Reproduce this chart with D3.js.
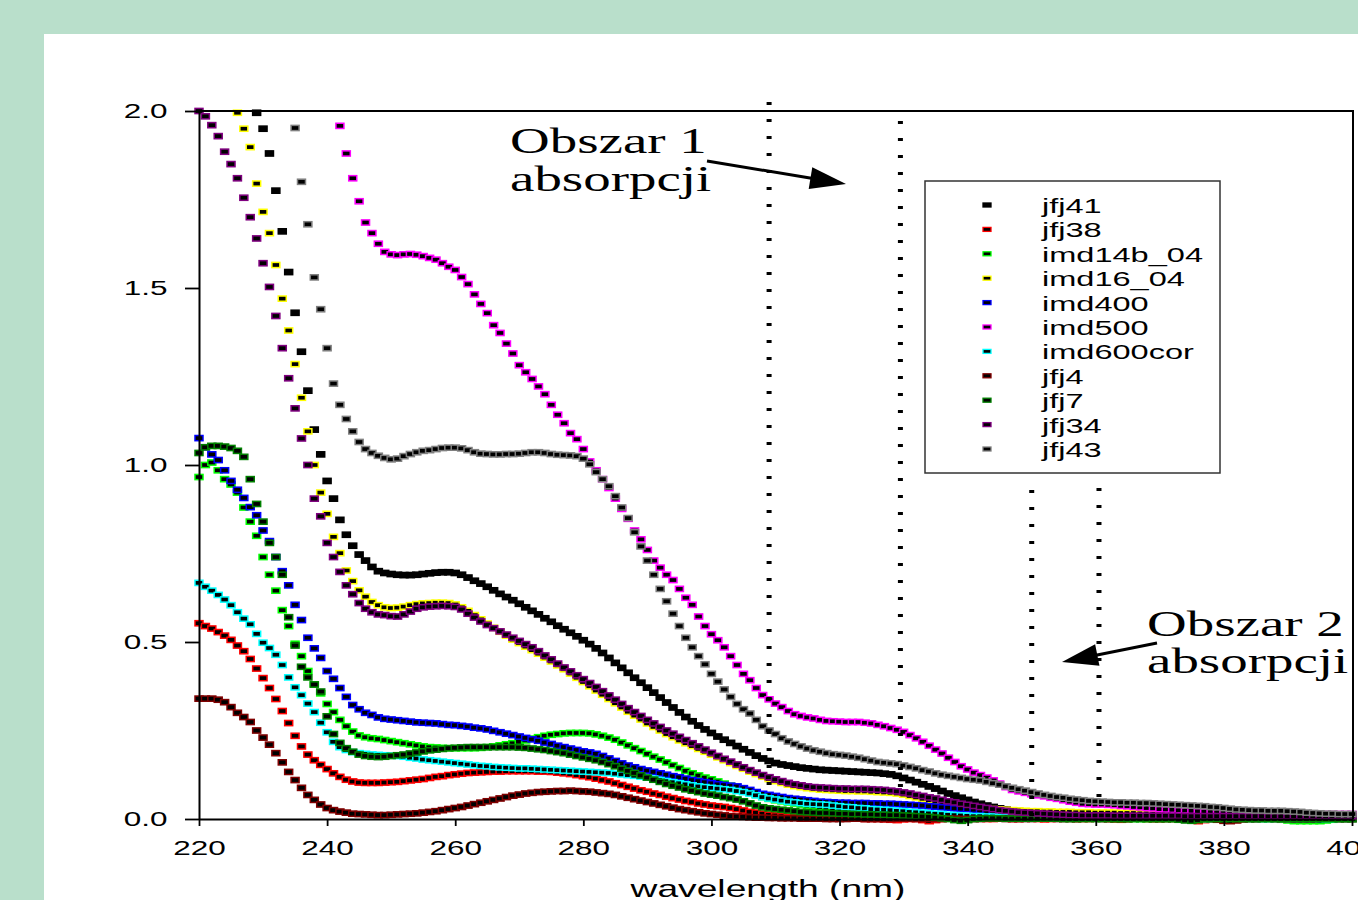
<!DOCTYPE html>
<html>
<head>
<meta charset="utf-8">
<script src="https://cdn.jsdelivr.net/npm/d3@7"></script>
<style>
body { margin: 0; background: #b9dfcb; }
svg { display: block; }
</style>
</head>
<body>
<svg id="chart" width="1358" height="900"></svg>
<script>
// sampling grid of the spectra (nm)
var startNm = 220, endNm = 400, stepNm = 1;
var xTicks = [220, 240, 260, 280, 300, 320, 340, 360, 380, 400];
var yTicks = [0, 0.5, 1.0, 1.5, 2.0];

var seriesNames = ["jfj41", "jfj38", "imd14b_04", "imd16_04", "imd400", "imd500",
                   "imd600cor", "jfj4", "jfj7", "jfj34", "jfj43"];
var seriesColors = ["#000000", "#ff0000", "#00ff00", "#ffff00", "#0000ff", "#ff00ff",
                    "#00ffff", "#800000", "#008000", "#800080", "#808080"];

// absorbance, one value per nm from 220 to 400 (null = above 2.0, off the chart)
var jfj41 = [
 null,null,null,null,null,null,null,null,null,1.995,
 1.950,1.880,1.775,1.660,1.545,1.430,1.320,1.210,1.100,1.030,
 0.955,0.905,0.845,0.803,0.772,0.747,0.730,0.712,0.700,0.695,
 0.692,0.690,0.689,0.689,0.690,0.692,0.694,0.696,0.697,0.697,
 0.695,0.690,0.682,0.673,0.665,0.656,0.646,0.636,0.627,0.618,
 0.608,0.598,0.588,0.578,0.567,0.557,0.546,0.536,0.526,0.516,
 0.505,0.494,0.482,0.469,0.455,0.441,0.427,0.413,0.399,0.385,
 0.371,0.357,0.343,0.329,0.315,0.301,0.288,0.276,0.264,0.253,
 0.243,0.233,0.224,0.215,0.206,0.197,0.188,0.179,0.171,0.164,
 0.158,0.154,0.151,0.148,0.145,0.143,0.141,0.139,0.138,0.137,
 0.136,0.135,0.134,0.133,0.132,0.131,0.130,0.128,0.126,0.122,
 0.116,0.110,0.104,0.098,0.092,0.086,0.079,0.072,0.066,0.060,
 0.054,0.048,0.043,0.038,0.034,0.030,0.027,0.024,0.022,0.020,
 0.018,0.017,0.016,0.015,0.015,0.014,0.014,0.013,0.013,0.012,
 0.012,0.012,0.011,0.011,0.011,0.011,0.010,0.010,0.010,0.010,
 0.010,0.010,0.009,0.009,0.009,0.009,0.009,0.009,0.008,0.008,
 0.008,0.008,0.008,0.008,0.008,0.008,0.007,0.007,0.007,0.007,
 0.007,0.007,0.007,0.007,0.007,0.006,0.006,0.006,0.006,0.006,
 0.006];

var jfj38 = [
 0.553,0.545,0.538,0.528,0.518,0.506,0.490,0.474,0.452,0.425,
 0.398,0.370,0.339,0.305,0.271,0.235,0.205,0.182,0.166,0.153,
 0.141,0.129,0.119,0.111,0.106,0.103,0.102,0.102,0.102,0.103,
 0.104,0.105,0.107,0.109,0.111,0.113,0.116,0.119,0.121,0.124,
 0.126,0.128,0.130,0.131,0.132,0.133,0.134,0.134,0.135,0.135,
 0.135,0.135,0.135,0.134,0.134,0.133,0.131,0.129,0.127,0.124,
 0.121,0.118,0.114,0.110,0.106,0.101,0.096,0.091,0.086,0.081,
 0.077,0.072,0.068,0.063,0.059,0.055,0.051,0.048,0.044,0.041,
 0.038,0.036,0.034,0.031,0.028,0.024,0.020,0.018,0.015,0.012,
 0.010,0.008,0.006,0.005,0.004,0.003,0.003,0.002,0.002,0.002,
 0.002,0.001,0.001,0.001,0.000,0.000,0.000,-0.001,-0.002,-0.003,
 -0.001,0.000,0.000,-0.003,-0.006,-0.003,0.000,0.001,0.001,0.000,
 0.000,0.001,0.001,0.000,0.000,0.001,0.001,0.000,0.000,0.001,
 0.001,0.000,-0.001,0.000,0.001,0.001,0.001,0.000,0.000,0.000,
 0.001,0.001,0.000,-0.001,-0.002,0.000,0.001,0.001,0.000,0.000,
 0.000,0.001,0.001,0.000,-0.001,-0.003,-0.006,-0.003,0.000,0.001,
 0.001,0.000,0.000,0.001,0.001,0.000,0.000,0.000,0.001,0.001,
 0.000,0.000,0.000,0.001,0.001,0.000,0.000,0.000,0.000,0.000,
 0.000];

var imd14b_04 = [
 0.966,1.000,1.007,0.985,0.960,0.945,0.922,0.880,0.840,0.800,
 0.740,0.690,0.645,0.590,0.545,0.495,0.460,0.418,0.380,0.355,
 0.325,0.302,0.280,0.262,0.247,0.236,0.231,0.228,0.226,0.223,
 0.220,0.217,0.214,0.211,0.208,0.205,0.203,0.202,0.201,0.200,
 0.200,0.200,0.200,0.200,0.201,0.203,0.205,0.208,0.211,0.214,
 0.218,0.222,0.227,0.231,0.235,0.238,0.240,0.242,0.243,0.243,
 0.243,0.242,0.239,0.235,0.230,0.224,0.216,0.208,0.200,0.192,
 0.184,0.176,0.168,0.160,0.152,0.144,0.136,0.129,0.123,0.117,
 0.112,0.106,0.100,0.094,0.088,0.082,0.075,0.068,0.062,0.057,
 0.053,0.050,0.047,0.044,0.041,0.038,0.036,0.034,0.032,0.030,
 0.028,0.026,0.024,0.022,0.020,0.019,0.017,0.016,0.015,0.013,
 0.012,0.011,0.010,0.009,0.008,0.007,0.006,0.006,0.005,0.005,
 0.004,0.004,0.004,0.003,0.003,0.003,0.003,0.002,0.002,0.002,
 0.002,0.002,0.002,0.001,0.001,0.001,0.001,0.001,0.001,0.001,
 0.001,0.001,0.001,0.000,0.000,0.000,0.000,0.000,0.000,0.000,
 0.000,0.000,0.000,0.000,0.000,0.000,0.000,0.000,0.000,0.000,
 0.000,0.000,0.000,0.000,0.000,0.000,0.000,0.000,0.000,-0.002,
 -0.004,-0.006,-0.006,-0.006,-0.006,-0.006,-0.004,-0.002,0.000,0.000,
 0.000];

var imd16_04 = [
 null,null,null,null,null,null,1.995,1.950,1.898,1.795,
 1.715,1.655,1.565,1.470,1.380,1.285,1.190,1.095,1.000,0.922,
 0.862,0.797,0.751,0.702,0.672,0.646,0.628,0.613,0.604,0.598,
 0.596,0.597,0.600,0.604,0.607,0.609,0.610,0.611,0.611,0.610,
 0.606,0.598,0.588,0.576,0.564,0.552,0.540,0.529,0.518,0.507,
 0.497,0.487,0.477,0.467,0.456,0.445,0.434,0.423,0.411,0.399,
 0.387,0.375,0.363,0.351,0.339,0.327,0.315,0.303,0.292,0.281,
 0.270,0.260,0.250,0.240,0.231,0.222,0.214,0.206,0.198,0.190,
 0.182,0.174,0.166,0.158,0.150,0.142,0.134,0.127,0.120,0.113,
 0.107,0.102,0.097,0.093,0.090,0.087,0.085,0.083,0.082,0.081,
 0.080,0.079,0.079,0.078,0.078,0.077,0.076,0.075,0.074,0.072,
 0.069,0.065,0.061,0.057,0.053,0.049,0.046,0.043,0.040,0.037,
 0.034,0.032,0.030,0.029,0.028,0.027,0.026,0.025,0.024,0.023,
 0.022,0.022,0.021,0.021,0.020,0.020,0.020,0.019,0.019,0.019,
 0.018,0.018,0.018,0.018,0.017,0.017,0.017,0.016,0.016,0.015,
 0.014,0.013,0.012,0.011,0.010,0.010,0.009,0.009,0.008,0.008,
 0.008,0.008,0.007,0.007,0.007,0.007,0.007,0.006,0.006,0.006,
 0.006,0.006,0.006,0.006,0.005,0.005,0.005,0.005,0.005,0.005,
 0.005];

var imd400 = [
 1.076,1.050,1.030,1.014,0.985,0.955,0.930,0.907,0.881,0.858,
 0.815,0.785,0.740,0.700,0.660,0.605,0.562,0.512,0.482,0.455,
 0.418,0.396,0.370,0.345,0.322,0.310,0.300,0.294,0.287,0.283,
 0.281,0.279,0.277,0.275,0.273,0.272,0.271,0.270,0.268,0.266,
 0.265,0.263,0.261,0.258,0.256,0.253,0.249,0.245,0.241,0.237,
 0.233,0.229,0.225,0.221,0.216,0.212,0.207,0.203,0.199,0.195,
 0.191,0.188,0.184,0.178,0.171,0.164,0.157,0.151,0.146,0.141,
 0.137,0.133,0.129,0.125,0.121,0.118,0.114,0.110,0.107,0.104,
 0.101,0.098,0.096,0.094,0.092,0.087,0.082,0.076,0.071,0.068,
 0.065,0.062,0.059,0.057,0.055,0.053,0.051,0.049,0.048,0.047,
 0.046,0.046,0.045,0.045,0.045,0.044,0.044,0.043,0.043,0.042,
 0.041,0.040,0.039,0.038,0.036,0.035,0.033,0.032,0.030,0.029,
 0.028,0.026,0.024,0.022,0.020,0.018,0.016,0.014,0.013,0.012,
 0.011,0.010,0.010,0.009,0.009,0.008,0.008,0.008,0.007,0.007,
 0.007,0.007,0.006,0.006,0.006,0.006,0.006,0.005,0.005,0.005,
 0.005,0.005,0.005,0.005,0.004,0.004,0.004,0.004,0.004,0.004,
 0.004,0.004,0.004,0.003,0.003,0.003,0.003,0.003,0.003,0.003,
 0.003,0.003,0.003,0.003,0.003,0.002,0.002,0.002,0.002,0.002,
 0.002];

var imd500 = [
 null,null,null,null,null,null,null,null,null,null,
 null,null,null,null,null,null,null,null,null,null,
 null,null,1.958,1.880,1.810,1.745,1.685,1.655,1.625,1.602,
 1.595,1.593,1.595,1.596,1.594,1.590,1.585,1.580,1.570,1.560,
 1.551,1.531,1.511,1.482,1.455,1.429,1.395,1.373,1.343,1.315,
 1.282,1.262,1.243,1.222,1.200,1.170,1.142,1.118,1.090,1.073,
 1.045,1.010,0.985,0.960,0.935,0.905,0.876,0.848,0.815,0.790,
 0.760,0.730,0.710,0.690,0.675,0.650,0.625,0.605,0.572,0.545,
 0.522,0.505,0.485,0.460,0.435,0.410,0.392,0.370,0.350,0.338,
 0.326,0.316,0.305,0.296,0.291,0.287,0.284,0.280,0.277,0.276,
 0.275,0.274,0.274,0.274,0.272,0.270,0.266,0.262,0.257,0.252,
 0.246,0.237,0.228,0.218,0.207,0.196,0.185,0.173,0.161,0.149,
 0.140,0.131,0.124,0.117,0.109,0.100,0.090,0.082,0.078,0.074,
 0.070,0.067,0.064,0.060,0.057,0.053,0.049,0.046,0.043,0.042,
 0.041,0.041,0.040,0.039,0.037,0.036,0.034,0.033,0.031,0.030,
 0.028,0.027,0.026,0.025,0.024,0.023,0.022,0.021,0.020,0.020,
 0.019,0.018,0.018,0.017,0.017,0.017,0.017,0.017,0.017,0.016,
 0.016,0.015,0.015,0.014,0.014,0.014,0.014,0.014,0.014,0.014,
 0.014];

var imd600cor = [
 0.667,0.656,0.645,0.633,0.620,0.604,0.584,0.566,0.550,0.523,
 0.498,0.483,0.464,0.435,0.400,0.372,0.350,0.326,0.302,0.272,
 0.245,0.218,0.203,0.195,0.189,0.186,0.184,0.182,0.181,0.180,
 0.179,0.178,0.176,0.173,0.171,0.168,0.166,0.164,0.162,0.160,
 0.158,0.156,0.154,0.152,0.150,0.149,0.147,0.146,0.145,0.144,
 0.143,0.143,0.142,0.141,0.140,0.139,0.138,0.137,0.136,0.135,
 0.134,0.133,0.132,0.131,0.130,0.128,0.126,0.124,0.122,0.120,
 0.117,0.114,0.110,0.107,0.104,0.101,0.098,0.095,0.092,0.090,
 0.088,0.086,0.084,0.082,0.079,0.076,0.072,0.067,0.062,0.058,
 0.055,0.052,0.049,0.047,0.045,0.043,0.042,0.041,0.040,0.038,
 0.036,0.034,0.033,0.031,0.030,0.028,0.027,0.026,0.025,0.023,
 0.022,0.020,0.019,0.018,0.016,0.015,0.014,0.012,0.011,0.010,
 0.009,0.008,0.008,0.007,0.007,0.006,0.006,0.005,0.005,0.005,
 0.004,0.004,0.004,0.004,0.003,0.003,0.003,0.003,0.003,0.003,
 0.003,0.002,0.002,0.002,0.002,0.002,0.002,0.001,0.001,0.001,
 0.001,0.001,0.001,0.001,0.001,0.001,0.000,0.000,0.000,0.000,
 0.000,0.000,0.000,0.000,0.000,0.000,0.000,0.000,0.000,0.000,
 0.000,0.000,0.000,0.000,0.000,0.000,0.000,0.000,0.000,0.000,
 0.000];

var jfj4 = [
 0.340,0.340,0.340,0.337,0.330,0.316,0.300,0.288,0.274,0.250,
 0.230,0.210,0.186,0.160,0.133,0.110,0.088,0.068,0.054,0.041,
 0.031,0.025,0.021,0.018,0.015,0.014,0.013,0.012,0.011,0.011,
 0.012,0.013,0.014,0.015,0.016,0.018,0.020,0.022,0.025,0.028,
 0.031,0.034,0.038,0.042,0.046,0.050,0.054,0.058,0.062,0.066,
 0.069,0.072,0.074,0.076,0.077,0.078,0.079,0.079,0.080,0.079,
 0.078,0.077,0.075,0.073,0.071,0.068,0.064,0.060,0.056,0.052,
 0.048,0.044,0.040,0.036,0.032,0.028,0.025,0.022,0.019,0.016,
 0.014,0.012,0.010,0.008,0.007,0.006,0.005,0.004,0.004,0.003,
 0.003,0.002,0.002,0.002,0.001,0.001,0.001,0.001,0.000,0.000,
 0.000,0.000,0.001,0.001,0.000,0.000,0.000,0.000,0.000,0.001,
 0.001,0.001,0.000,0.000,0.000,0.000,0.000,0.001,0.001,0.000,
 0.000,0.000,0.000,0.001,0.001,0.001,0.000,0.000,0.000,0.000,
 0.000,0.001,0.001,0.001,0.000,0.000,0.000,0.000,0.001,0.001,
 0.001,0.000,0.000,0.000,0.000,0.000,0.001,0.001,0.001,0.000,
 0.000,0.000,0.000,0.000,0.000,0.000,0.001,0.001,0.000,-0.002,
 -0.005,-0.006,-0.004,-0.001,0.000,0.000,0.001,0.001,0.000,0.000,
 0.000,0.000,0.000,0.000,0.000,0.001,0.001,0.001,0.000,0.000,
 0.000];

var jfj7 = [
 1.034,1.050,1.054,1.054,1.052,1.048,1.040,1.023,0.960,0.890,
 0.840,0.780,0.740,0.690,0.570,0.490,0.430,0.400,0.380,0.360,
 0.290,0.240,0.215,0.200,0.190,0.182,0.178,0.176,0.175,0.176,
 0.178,0.180,0.182,0.185,0.188,0.191,0.194,0.196,0.198,0.200,
 0.201,0.202,0.203,0.203,0.203,0.203,0.203,0.203,0.203,0.203,
 0.202,0.201,0.199,0.197,0.195,0.192,0.189,0.186,0.182,0.178,
 0.174,0.170,0.166,0.161,0.155,0.149,0.142,0.136,0.130,0.123,
 0.117,0.111,0.105,0.099,0.094,0.089,0.084,0.080,0.076,0.072,
 0.069,0.066,0.062,0.059,0.055,0.050,0.044,0.038,0.033,0.030,
 0.028,0.026,0.024,0.022,0.020,0.019,0.018,0.017,0.017,0.016,
 0.015,0.015,0.014,0.014,0.013,0.013,0.012,0.012,0.011,0.011,
 0.010,0.009,0.008,0.007,0.006,0.004,0.002,0.000,-0.003,-0.005,
 -0.003,0.000,0.001,0.002,0.002,0.002,0.001,0.001,0.001,0.001,
 0.001,0.001,0.001,0.001,0.001,0.000,0.000,0.000,0.000,0.000,
 0.000,0.000,0.000,0.000,0.000,0.000,0.000,0.000,0.000,0.000,
 0.000,0.000,0.000,-0.002,-0.004,-0.005,-0.003,0.000,0.000,0.000,
 0.000,0.000,0.000,0.000,0.000,0.000,0.000,0.000,0.000,0.000,
 0.000,0.000,0.000,0.000,0.000,0.000,0.000,0.000,0.000,0.000,
 0.000];

var jfj34 = [
 2.000,1.985,1.960,1.929,1.885,1.850,1.810,1.755,1.700,1.640,
 1.570,1.503,1.421,1.330,1.245,1.160,1.075,1.000,0.905,0.855,
 0.780,0.740,0.698,0.660,0.635,0.610,0.594,0.584,0.578,0.576,
 0.573,0.572,0.578,0.586,0.594,0.598,0.600,0.601,0.602,0.601,
 0.599,0.592,0.580,0.569,0.558,0.548,0.539,0.530,0.521,0.512,
 0.503,0.494,0.485,0.474,0.462,0.451,0.439,0.428,0.417,0.406,
 0.395,0.384,0.373,0.361,0.349,0.337,0.325,0.313,0.302,0.291,
 0.280,0.270,0.260,0.250,0.241,0.232,0.223,0.214,0.205,0.196,
 0.187,0.178,0.170,0.162,0.154,0.146,0.138,0.131,0.124,0.118,
 0.112,0.107,0.102,0.098,0.095,0.092,0.090,0.089,0.088,0.087,
 0.086,0.086,0.085,0.085,0.085,0.084,0.083,0.082,0.080,0.078,
 0.075,0.072,0.068,0.065,0.061,0.058,0.054,0.050,0.047,0.043,
 0.040,0.037,0.034,0.031,0.028,0.025,0.023,0.021,0.019,0.018,
 0.017,0.016,0.015,0.014,0.013,0.012,0.011,0.011,0.010,0.010,
 0.010,0.010,0.010,0.009,0.009,0.009,0.009,0.009,0.009,0.009,
 0.009,0.009,0.009,0.009,0.008,0.008,0.008,0.008,0.008,0.008,
 0.008,0.008,0.008,0.008,0.008,0.008,0.008,0.008,0.008,0.008,
 0.008,0.008,0.008,0.008,0.008,0.008,0.008,0.008,0.008,0.008,
 0.008];

var jfj43 = [
 null,null,null,null,null,null,null,null,null,null,
 null,null,null,null,null,1.952,1.800,1.680,1.530,1.440,
 1.330,1.230,1.170,1.130,1.095,1.065,1.045,1.034,1.026,1.020,
 1.016,1.018,1.025,1.031,1.036,1.040,1.042,1.045,1.048,1.049,
 1.049,1.047,1.042,1.036,1.032,1.031,1.030,1.030,1.031,1.031,
 1.032,1.034,1.036,1.036,1.034,1.031,1.029,1.028,1.027,1.025,
 1.018,1.002,0.980,0.960,0.940,0.912,0.880,0.850,0.810,0.770,
 0.730,0.690,0.650,0.615,0.580,0.545,0.512,0.485,0.460,0.437,
 0.410,0.388,0.366,0.345,0.325,0.310,0.298,0.280,0.262,0.250,
 0.240,0.228,0.219,0.212,0.205,0.199,0.194,0.190,0.186,0.183,
 0.181,0.179,0.176,0.173,0.169,0.165,0.161,0.159,0.157,0.155,
 0.151,0.147,0.143,0.138,0.134,0.129,0.125,0.122,0.119,0.116,
 0.113,0.111,0.109,0.105,0.101,0.097,0.092,0.088,0.084,0.080,
 0.076,0.072,0.068,0.065,0.062,0.060,0.057,0.055,0.053,0.051,
 0.050,0.049,0.048,0.047,0.047,0.046,0.046,0.045,0.045,0.044,
 0.043,0.042,0.041,0.040,0.039,0.038,0.037,0.036,0.034,0.033,
 0.031,0.029,0.027,0.026,0.025,0.024,0.024,0.023,0.023,0.023,
 0.022,0.021,0.020,0.018,0.017,0.016,0.015,0.015,0.014,0.014,
 0.014];

var seriesValues = [jfj41, jfj38, imd14b_04, imd16_04, imd400, imd500,
                    imd600cor, jfj4, jfj7, jfj34, jfj43];

// the two marked absorption regions (nm), drawn as dotted verticals
var regionBounds = [309, 329.5, 350, 360.5];

var wavelengths = d3.range(startNm, endNm + stepNm, stepNm);

var svg = d3.select("#chart");
svg.append("rect").attr("width", 1358).attr("height", 900).attr("fill", "#b9dfcb");
svg.append("rect").attr("x", 44).attr("y", 34).attr("width", 1314).attr("height", 866).attr("fill", "#ffffff");

var x = d3.scaleLinear().domain([220, 400]).range([199, 1352]);
var y = d3.scaleLinear().domain([0, 2]).range([819, 111]);

var SANS = "Liberation Sans, Arial, sans-serif";
var SERIF = "Liberation Serif, Times New Roman, serif";
var SX = 1.5; // the original lettering is stretched sideways

function wideText(g, px, py, str, size, family, sx) {
    return g.append("text")
        .attr("transform", "translate(" + px + "," + py + ") scale(" + (sx || SX) + ",1)")
        .attr("font-family", family)
        .attr("font-size", size)
        .attr("fill", "#000")
        .text(str);
}

// ---- markers
seriesNames.forEach(function(name, i) {
    var pts = wavelengths.map(function(w, j) {
        return { w: w, v: seriesValues[i][j] };
    }).filter(function(d) { return d.v != null; });

    svg.append("g")
        .attr("class", "series-" + name)
        .selectAll("rect")
        .data(pts)
        .enter()
        .append("rect")
        .attr("x", function(d) { return x(d.w) - 4; })
        .attr("y", function(d) { return y(d.v) - 2.6; })
        .attr("width", 8)
        .attr("height", 5.2)
        .attr("fill", "#000")
        .attr("stroke", seriesColors[i])
        .attr("stroke-width", 1.5);
});

// ---- dotted region lines
var dotTops = [102, 121, 490, 488];
var dotBottoms = [797, 797, 820, 800];
regionBounds.forEach(function(nm, i) {
    svg.append("line")
        .attr("x1", x(nm)).attr("x2", x(nm))
        .attr("y1", dotTops[i]).attr("y2", dotBottoms[i])
        .attr("stroke", "#000")
        .attr("stroke-width", 5)
        .attr("stroke-dasharray", "3 14");
});

// ---- axes
var yAxis = svg.append("g")
    .attr("transform", "translate(199,0)")
    .call(d3.axisLeft(y).tickValues(yTicks).tickFormat(d3.format(".1f")).tickSize(14).tickSizeOuter(0));
yAxis.select(".domain").attr("stroke-width", 2);
yAxis.selectAll(".tick line").attr("stroke-width", 1.8);
yAxis.selectAll("text")
    .attr("x", -21)
    .attr("transform", "scale(" + SX + ",1)")
    .attr("font-family", SANS)
    .attr("font-size", 21);

var xAxis = svg.append("g")
    .attr("transform", "translate(0,819)")
    .call(d3.axisBottom(x).tickValues(xTicks).tickFormat(d3.format("d")).tickSize(7).tickSizeOuter(0));
xAxis.select(".domain").attr("stroke-width", 2);
xAxis.selectAll(".tick line").attr("stroke-width", 1.8);
xAxis.selectAll("text")
    .attr("y", 36)
    .attr("dy", 0)
    .attr("transform", "scale(" + SX + ",1)")
    .attr("font-family", SANS)
    .attr("font-size", 21);

// frame top + right
svg.append("path")
    .attr("d", "M199,111H1353V819")
    .attr("fill", "none")
    .attr("stroke", "#000")
    .attr("stroke-width", 2);

wideText(svg, 768, 897, "wavelength (nm)", 24, SANS, 1.55).attr("text-anchor", "middle");

// ---- legend
var legend = svg.append("g");
legend.append("rect")
    .attr("x", 925).attr("y", 181).attr("width", 295).attr("height", 292)
    .attr("fill", "#fff").attr("stroke", "#333").attr("stroke-width", 1.5);
seriesNames.forEach(function(name, i) {
    var by = 213 + i * 24.4;
    legend.append("rect")
        .attr("x", 983).attr("y", by - 10)
        .attr("width", 8).attr("height", 4)
        .attr("fill", "#000")
        .attr("stroke", seriesColors[i])
        .attr("stroke-width", 1.3);
    wideText(legend, 1042, by, name, 21, SANS, 1.55);
});

// ---- annotations
var ann = svg.append("g");
wideText(ann, 510, 153, "Obszar 1", 35, SERIF, 1.57);
wideText(ann, 510, 191, "absorpcji", 35, SERIF, 1.57);
wideText(ann, 1147, 636, "Obszar 2", 35, SERIF, 1.57);
wideText(ann, 1147, 673, "absorpcji", 35, SERIF, 1.57);

function arrow(x0, y0, x1, y1) {
    var dx = x1 - x0, dy = y1 - y0, len = Math.sqrt(dx * dx + dy * dy);
    var ux = dx / len, uy = dy / len;
    var hl = 36, hw = 11;
    var bx = x1 - ux * hl, by = y1 - uy * hl;
    ann.append("line")
        .attr("x1", x0).attr("y1", y0).attr("x2", bx + ux * 4).attr("y2", by + uy * 4)
        .attr("stroke", "#000").attr("stroke-width", 3);
    ann.append("path")
        .attr("d", "M" + x1 + "," + y1 +
            "L" + (bx - uy * hw) + "," + (by + ux * hw) +
            "L" + (bx + uy * hw) + "," + (by - ux * hw) + "Z")
        .attr("fill", "#000");
}
arrow(707, 161, 846, 184);
arrow(1157, 643, 1062, 662);
</script>
</body>
</html>
